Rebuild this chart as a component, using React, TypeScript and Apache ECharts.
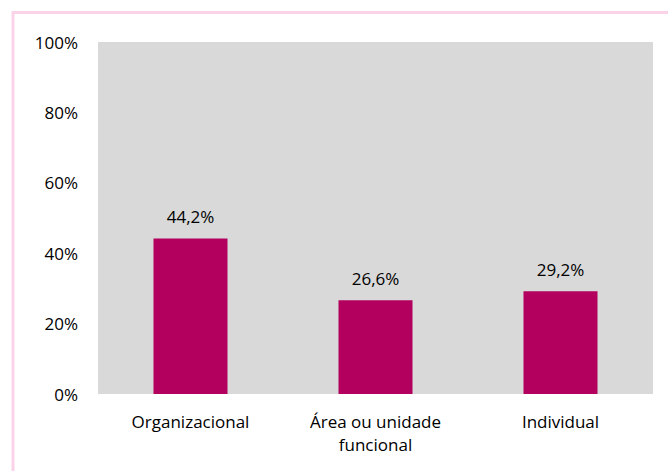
import React, { useEffect, useRef } from "react";
import * as echarts from "echarts";

const categories = ["Organizacional", "Área ou unidade\nfuncional", "Individual"];
const values = [44.2, 26.6, 29.2];
const yTicks = [0, 20, 40, 60, 80, 100];

const FONT = "'Open Sans', 'Noto Sans', sans-serif";
const FS = 17;

export default function App() {
  const ref = useRef<HTMLDivElement>(null);
  useEffect(() => {
    if (!ref.current) return;
    const chart = echarts.init(ref.current, undefined, { renderer: "svg" });
    chart.setOption({
      animation: false,
      backgroundColor: "#ffffff",
      graphic: [
        {
          type: "rect",
          shape: { x: 13, y: 12.5, width: 720, height: 520 },
          style: { fill: "none", stroke: "#FAD3E8", lineWidth: 3 },
          silent: true,
        },
      ],
      grid: {
        left: 98,
        top: 42,
        right: 15,
        bottom: 77,
        show: true,
        backgroundColor: "#D9D9D9",
        borderWidth: 0,
      },
      xAxis: {
        type: "category",
        data: categories,
        axisLine: { show: false },
        axisTick: { show: false },
        axisLabel: {
          color: "#000",
          fontFamily: FONT,
          fontSize: FS,
          margin: 16,
          lineHeight: 23,
          interval: 0,
        },
      },
      yAxis: {
        type: "value",
        min: yTicks[0],
        max: yTicks[yTicks.length - 1],
        interval: 20,
        splitLine: { show: false },
        axisLine: { show: false },
        axisTick: { show: false },
        axisLabel: {
          color: "#000",
          fontFamily: FONT,
          fontSize: FS,
          margin: 20,
          formatter: (v: number) => `${v}%`,
        },
      },
      series: [
        {
          type: "bar",
          data: values,
          barWidth: "40%",
          itemStyle: { color: "#B3005E" },
          label: {
            show: true,
            position: "top",
            distance: 13,
            color: "#000",
            fontFamily: FONT,
            fontSize: FS,
            formatter: (p: any) => `${p.value.toFixed(1).replace(".", ",")}%`,
          },
        },
      ],
    });
    return () => chart.dispose();
  }, []);
  return (
    <div
      ref={ref}
      style={{ position: "fixed", left: 0, top: 0, width: 668, height: 471 }}
    />
  );
}
